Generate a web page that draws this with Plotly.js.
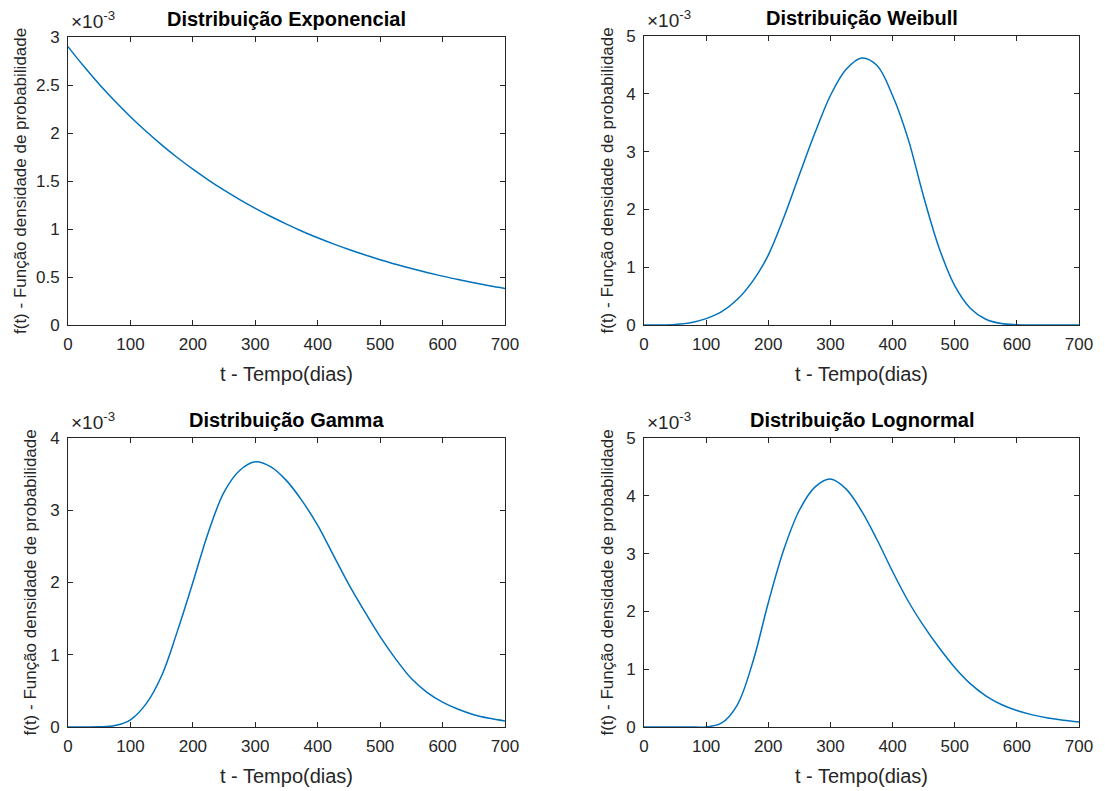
<!DOCTYPE html>
<html>
<head>
<meta charset="utf-8">
<script src="https://cdn.plot.ly/plotly-3.0.1.min.js"></script>
<style>html,body{margin:0;padding:0;background:#fff;}#chart{width:1105px;height:791px;}</style>
</head>
<body>
<div id="chart"></div>
<script>
// Time (days)
const tempo = [0,25,50,75,100,125,150,175,200,225,250,275,300,325,350,375,400,425,450,475,500,525,550,575,600,625,650,675,700];
// Densities, in units of 1e-3
const exponencial = [2.900,2.697,2.508,2.333,2.170,2.018,1.877,1.745,1.623,1.510,1.404,1.306,1.215,1.130,1.051,0.977,0.909,0.845,0.786,0.731,0.680,0.632,0.588,0.547,0.509,0.473,0.440,0.409,0.381];
const weibull = [0,0.001,0.01,0.04,0.11,0.23,0.44,0.76,1.21,1.86,2.6,3.32,3.97,4.42,4.62,4.49,3.97,3.22,2.22,1.33,0.68,0.29,0.1,0.025,0.005,0,0,0,0];
const gamma = [0,0,0.002,0.02,0.1,0.32,0.71,1.32,2.0,2.7,3.25,3.55,3.67,3.6,3.41,3.13,2.79,2.38,1.97,1.6,1.25,0.94,0.67,0.48,0.345,0.245,0.17,0.12,0.083];
const lognormal = [0,0,0,0,0.002,0.07,0.38,1.12,2.15,3.07,3.75,4.15,4.29,4.12,3.74,3.24,2.69,2.18,1.75,1.37,1.03,0.75,0.54,0.39,0.285,0.21,0.155,0.115,0.085];

const titulos = ['Distribuição Exponencial','Distribuição Weibull','Distribuição Gamma','Distribuição Lognormal'];
const xTicks = [0,100,200,300,400,500,600,700];
const yMax = [3,5,4,5];
const yStep = [0.5,1,1,1];
const xLabel = 't - Tempo(dias)';
const yLabel = 'f(t) - Função densidade de probabilidade';
const expoente = '×10<sup>-3</sup>';

const W = 1105, H = 791;
const series = [exponencial, weibull, gamma, lognormal];
// pixel boxes of each axes: [left, right, top, bottom]
const boxes = [[68,505,37,325],[644,1079,36,325],[68,505,438,727],[644,1079,438,727]];
const ylabX = [21,607,30,607];
const lineColor = '#0072BD';
const txt = '#262626';
const fam = '"Liberation Sans", Arial, Helvetica, sans-serif';

const traces = [];
const layout = {
  width: W, height: H,
  margin: {l:0, r:0, t:0, b:0},
  paper_bgcolor: '#fff', plot_bgcolor: '#fff',
  showlegend: false,
  annotations: []
};

series.forEach((ys, i) => {
  const n = i === 0 ? '' : String(i+1);
  const b = boxes[i];
  traces.push({
    x: tempo, y: ys, type: 'scatter', mode: 'lines',
    line: {color: lineColor, width: 1.5, shape: 'spline', smoothing: 1},
    xaxis: 'x' + n, yaxis: 'y' + n, hoverinfo: 'skip'
  });
  const common = {
    showline: true, mirror: 'ticks', linecolor: txt, linewidth: 1,
    ticks: 'inside', ticklen: 5, tickcolor: txt, tickwidth: 1,
    showgrid: false, zeroline: false,
    tickfont: {family: fam, size: 17, color: txt}
  };
  const yt = [];
  for (let v = 0; v <= yMax[i] + 1e-9; v += yStep[i]) yt.push(+v.toFixed(2));
  layout['xaxis' + n] = Object.assign({}, common, {
    domain: [b[0]/W, b[1]/W], range: [0,700], tickvals: xTicks,
    anchor: 'y' + n, ticklabelstandoff: 4
  });
  layout['yaxis' + n] = Object.assign({}, common, {
    domain: [1 - b[3]/H, 1 - b[2]/H], range: [0, yMax[i]], tickvals: yt,
    anchor: 'x' + n, ticklabelstandoff: 4
  });
  const cx = (b[0] + b[1]) / 2 / W;
  // subplot title
  layout.annotations.push({
    text: '<b>' + titulos[i] + '</b>', xref: 'paper', yref: 'paper',
    x: cx, y: 1 - (b[2] - 18) / H, xanchor: 'center', yanchor: 'middle',
    showarrow: false, font: {family: fam, size: 20, color: '#000'}
  });
  // x label
  layout.annotations.push({
    text: xLabel, xref: 'paper', yref: 'paper',
    x: cx, y: 1 - (b[3] + 49) / H, xanchor: 'center', yanchor: 'middle',
    showarrow: false, font: {family: fam, size: 20, color: txt}
  });
  // y label
  layout.annotations.push({
    text: yLabel, xref: 'paper', yref: 'paper', textangle: -90,
    x: ylabX[i] / W, y: 1 - (b[2] + b[3]) / 2 / H, xanchor: 'center', yanchor: 'middle',
    showarrow: false, font: {family: fam, size: 17, color: txt}
  });
  // exponent
  layout.annotations.push({
    text: expoente, xref: 'paper', yref: 'paper',
    x: (b[0] + 1) / W, y: 1 - (b[2] - 3) / H, xanchor: 'left', yanchor: 'bottom',
    showarrow: false, font: {family: fam, size: 19, color: txt}
  });
});

Plotly.newPlot('chart', traces, layout, {staticPlot: true, displayModeBar: false});
</script>
</body>
</html>
